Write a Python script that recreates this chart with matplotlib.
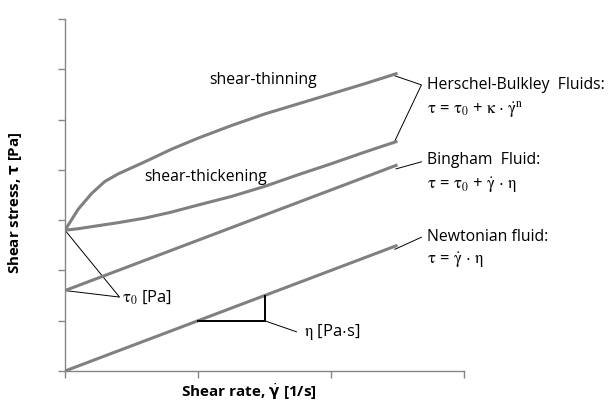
import numpy as np
import matplotlib.pyplot as plt

plt.rcParams['font.family'] = ['Open Sans', 'DejaVu Sans']
plt.rcParams['mathtext.fontset'] = 'stix'

# values (shear rate vs shear stress, arbitrary units)
rate = [0, 0.1, 0.2, 0.3, 0.4, 0.6, 0.8, 1.0, 1.25, 1.5, 1.75, 2.0, 2.25, 2.5]
thinning = [2.8, 3.22, 3.53, 3.77, 3.92, 4.16, 4.41, 4.63, 4.88, 5.11, 5.31, 5.51, 5.71, 5.92]
thickening = [2.8, 2.83, 2.87, 2.91, 2.95, 3.04, 3.16, 3.30, 3.47, 3.67, 3.90, 4.12, 4.35, 4.57]
bingham = [1.6, 1.7, 1.8, 1.9, 2.0, 2.2, 2.4, 2.6, 2.85, 3.1, 3.35, 3.6, 3.85, 4.1]
newtonian = [0, 0.1, 0.2, 0.3, 0.4, 0.6, 0.8, 1.0, 1.25, 1.5, 1.75, 2.0, 2.25, 2.5]
tau0_thick = 2.8   # yield stress of Herschel-Bulkley curves
tau0_bing = 1.6    # yield stress of Bingham curve
slope_x = [1.0, 1.5]  # slope triangle on the Newtonian line

line_col = '#808080'
axis_col = '#868686'

fig = plt.figure(figsize=(6.09, 4.04), dpi=100)
ax = fig.add_axes([65 / 609, 33 / 404, 399 / 609, 352 / 404])

for y in (thinning, thickening, bingham, newtonian):
    ax.plot(rate, y, color=line_col, lw=2.2, solid_capstyle='butt', zorder=3)

# slope triangle
x0, x1 = slope_x
ax.plot([x0, x1, x1], [x0, x0, x1], color='black', lw=1.4, zorder=4)

ax.set_xlim(0, 3)
ax.set_ylim(0, 7)
ax.set_xticks(np.arange(0, 4, 1))
ax.set_yticks(np.arange(0, 8, 1))
ax.tick_params(length=5, width=1, color=axis_col, labelbottom=False, labelleft=False)
for s in ('top', 'right'):
    ax.spines[s].set_visible(False)
for s in ('left', 'bottom'):
    ax.spines[s].set_color(axis_col)
    ax.spines[s].set_linewidth(1)

# axis titles
fig.text(15 / 609, 1 - 203 / 404, r'Shear stress, $\mathbf{\tau}$ [Pa]', fontsize=10.8,
         fontweight='bold', rotation=90, ha='center', va='center', math_fontfamily='dejavusans')
fig.text(249 / 609, 1 - 392 / 404, r'Shear rate, $\dot{\mathbf{\gamma}}$ [1/s]', fontsize=11,
         fontweight='bold', ha='center', va='center', math_fontfamily='dejavusans')

fs = 11.3
fm = 12
thin_kw = dict(color='black', lw=0.7)
tau = r'\mathrm{\tau}'
eta = r'\mathrm{\eta}'
gd = r'\dot{\mathrm{\gamma}}'

ax.text(1.49, 5.79, 'shear-thinning', fontsize=fs, ha='center', va='center')
ax.text(1.06, 3.86, 'shear-thickening', fontsize=fs, ha='center', va='center')

# Herschel-Bulkley bracket
vx, vy = 2.68, 5.69
ax.plot([rate[-1] - 0.02, vx, rate[-1] - 0.03], [thinning[-1] - 0.05, vy, thickening[-1] - 0.05], **thin_kw)
ax.text(2.72, vy, 'Herschel-Bulkley  Fluids:', fontsize=fs, va='center')
ax.text(2.72, 5.19, rf'${tau}$ = ${tau}_0$ + $\mathrm{{\kappa}}$ $\cdot$ ${gd}^\mathrm{{n}}$', fontsize=fm, va='center')

ax.plot([rate[-1] - 0.01, 2.68], [bingham[-1] - 0.08, 4.16], **thin_kw)
ax.text(2.72, 4.19, 'Bingham  Fluid:', fontsize=fs, va='center')
ax.text(2.72, 3.70, rf'${tau}$ = ${tau}_0$ + ${gd}$ $\cdot$ ${eta}$', fontsize=fm, va='center')

ax.plot([rate[-1] - 0.02, 2.68], [newtonian[-1] - 0.08, 2.66], **thin_kw)
ax.text(2.72, 2.66, 'Newtonian fluid:', fontsize=fs, va='center')
ax.text(2.72, 2.21, rf'${tau}$ = ${gd}$ $\cdot$ ${eta}$', fontsize=fm, va='center')

# yield stress pointers
ax.plot([0, 0.41, 0], [tau0_thick, 1.47, tau0_bing], **thin_kw)
ax.text(0.43, 1.47, rf'${tau}_0$ [Pa]', fontsize=fm, va='center')

# viscosity pointer
ax.plot([x1, 1.74], [x0, 0.78], **thin_kw)
ax.text(1.80, 0.78, rf'${eta}$ [Pa$\cdot$s]', fontsize=fm, va='center')

fig.savefig('out.png', dpi=100)
